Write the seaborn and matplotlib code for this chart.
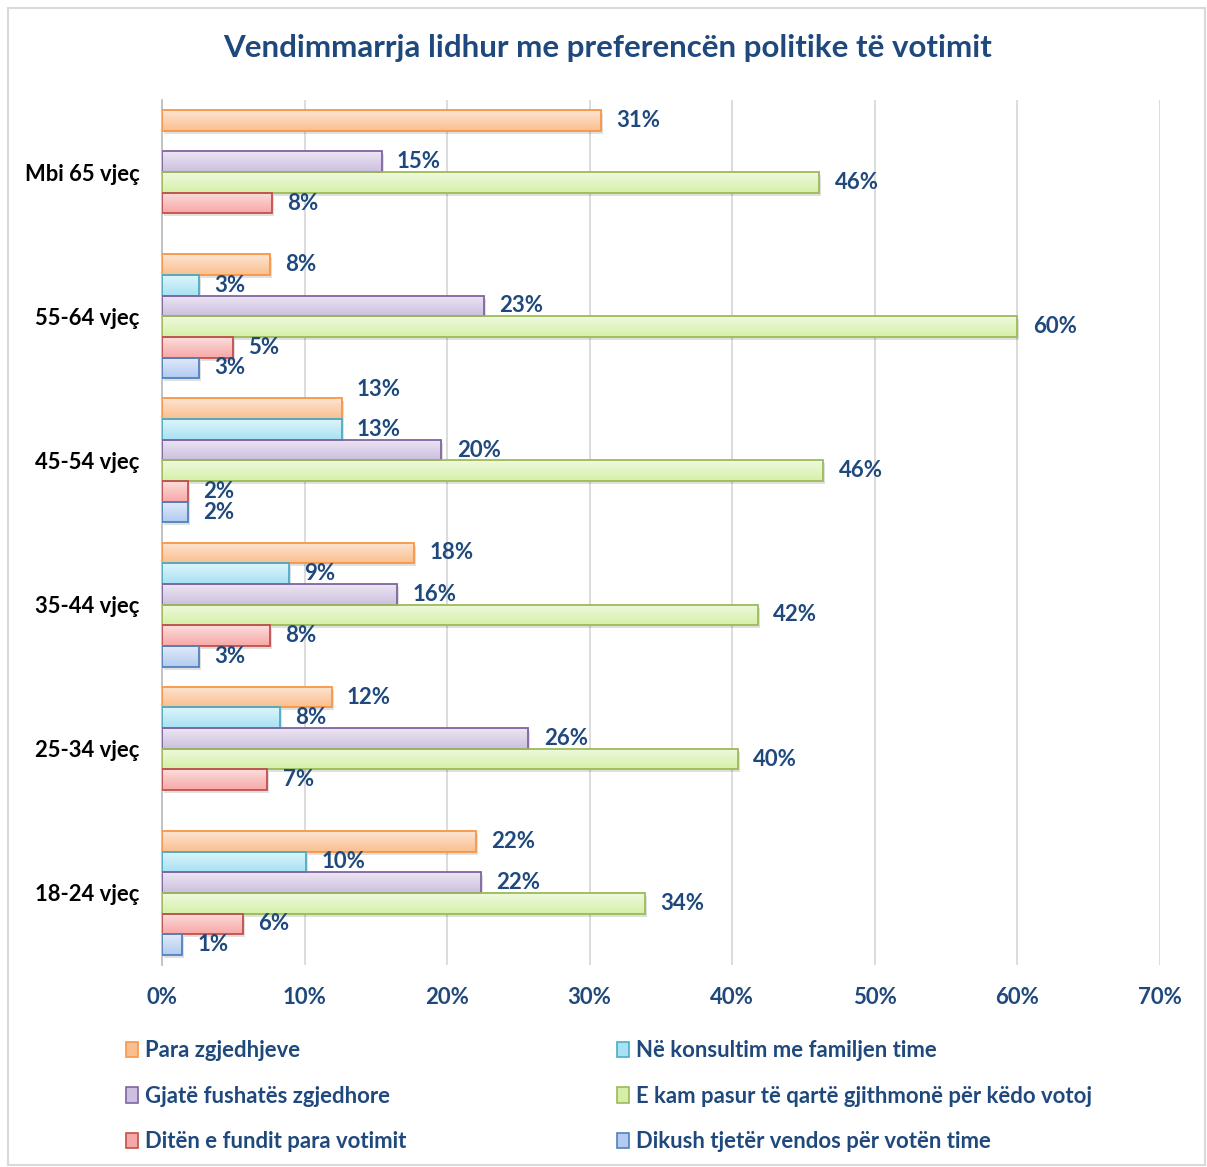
import numpy as np
import pandas as pd
import seaborn as sns
from matplotlib import pyplot as plt
from matplotlib import transforms
from matplotlib.colors import to_rgb
from matplotlib.patches import Patch, Rectangle

# data (percent)
age_groups = ['Mbi 65 vjeç', '55-64 vjeç', '45-54 vjeç', '35-44 vjeç', '25-34 vjeç', '18-24 vjeç']
series = [
    'Para zgjedhjeve',
    'Në konsultim me familjen time',
    'Gjatë fushatës zgjedhore',
    'E kam pasur të qartë gjithmonë për këdo votoj',
    'Ditën e fundit para votimit',
    'Dikush tjetër vendos për votën time',
]
para_zgjedhjeve = [30.8, 7.6, 12.6, 17.7, 11.9, 22.0]
konsultim_familje = [np.nan, 2.6, 12.6, 8.9, 8.3, 10.1]
gjate_fushates = [15.4, 22.6, 19.6, 16.5, 25.7, 22.4]
gjithmone_qarte = [46.1, 60.0, 46.4, 41.8, 40.4, 33.9]
dita_fundit = [7.7, 5.0, 1.8, 7.6, 7.4, 5.7]
dikush_tjeter = [np.nan, 2.6, 1.8, 2.6, np.nan, 1.4]
x_ticks = [0, 10, 20, 30, 40, 50, 60, 70]

values = [para_zgjedhjeve, konsultim_familje, gjate_fushates, gjithmone_qarte, dita_fundit, dikush_tjeter]
df = pd.DataFrame({
    'group': [g for _ in series for g in age_groups],
    'series': [s for s in series for _ in age_groups],
    'value': [v for vals in values for v in vals],
})

edge_colors = ['#F79646', '#4BACC6', '#8064A2', '#9BBB59', '#C0504D', '#4F81BD']
fill_bottom = ['#FABF8F', '#A8E2F2', '#CDBFDF', '#D5F0A6', '#F7A8A6', '#B3CBF0']
fill_top = ['#FDE5D2', '#DDF4FA', '#ECE6F3', '#EFF9DF', '#FCDDDC', '#E1EAF9']
text_blue = '#1F497D'

sns.set_style('white')
plt.rcParams['font.family'] = ['Lato', 'DejaVu Sans']
plt.rcParams['font.weight'] = 'bold'

fig = plt.figure(figsize=(12.07, 11.67), dpi=100)
ax = fig.add_axes([0.1342, 0.1731, 0.8268, 0.7412])

sns.barplot(
    data=df, x='value', y='group', hue='series', orient='h',
    order=age_groups, hue_order=series, palette=fill_bottom,
    width=0.86, linewidth=1.3, saturation=1, legend=False, ax=ax,
)

xlim = (0, 70)
ylim = ax.get_ylim()

# gradient fill + shadow for each bar
for i, container in enumerate(ax.containers):
    grad = np.linspace(to_rgb(fill_top[i]), to_rgb(fill_bottom[i]), 32).reshape(32, 1, 3)
    for bar in container:
        x0, y0 = bar.get_x(), bar.get_y()
        w, h = bar.get_width(), bar.get_height()
        if not np.isfinite(w) or w == 0:
            continue
        bar.set_edgecolor(edge_colors[i])
        bar.set_facecolor('none')
        bar.set_zorder(3)
        shadow_tr = transforms.offset_copy(ax.transData, fig=fig, x=2, y=-3, units='dots')
        ax.add_patch(Rectangle((x0, y0), w, h, transform=shadow_tr, facecolor='#000000',
                               alpha=0.12, edgecolor='none', zorder=1.5))
        im = ax.imshow(grad, extent=(x0, x0 + w, y0 + h, y0), origin='upper',
                       aspect='auto', zorder=2, interpolation='bicubic')
        im.set_clip_path(bar)
    labels = ax.bar_label(container, fmt='{:.0f}%', padding=11, color=text_blue,
                          fontsize=16, fontweight='bold')
    if i == 0:
        # the 45-54 label sits above its bar in the original
        labels[2].xyann = (labels[2].xyann[0], 14)

ax.set_xlim(*xlim)
ax.set_ylim(*ylim)
ax.set_xticks(x_ticks)
ax.set_xticklabels(['{}%'.format(t) for t in x_ticks], color=text_blue, fontsize=16, fontweight='bold')
ax.set_yticks(range(len(age_groups)))
ax.set_yticklabels(age_groups, color='black', fontsize=15.8, fontweight='bold')
ax.tick_params(axis='x', length=0, pad=16)
ax.tick_params(axis='y', length=0, pad=16)
ax.set_xlabel('')
ax.set_ylabel('')
ax.set_axisbelow(True)
ax.grid(axis='x', color='#D9D9D9', linewidth=1.3)
for side in ['top', 'right', 'bottom']:
    ax.spines[side].set_visible(False)
ax.spines['left'].set_color('#BFBFBF')
ax.spines['left'].set_linewidth(1.3)

# legend in two columns, placed as two stacked lists
handles = [Patch(facecolor=fill_bottom[i], edgecolor=edge_colors[i], linewidth=1.2) for i in range(len(series))]
legend_kw = dict(frameon=False, fontsize=15.9, labelcolor=text_blue, handlelength=0.55,
                 handleheight=0.7, handletextpad=0.3, labelspacing=1.12, borderpad=0, borderaxespad=0)
leg1 = fig.legend([handles[i] for i in (0, 2, 4)], [series[i] for i in (0, 2, 4)],
                  loc='upper left', bbox_to_anchor=(126 / 1207, 1 - 1040 / 1167), **legend_kw)
leg2 = fig.legend([handles[i] for i in (1, 3, 5)], [series[i] for i in (1, 3, 5)],
                  loc='upper left', bbox_to_anchor=(617 / 1207, 1 - 1040 / 1167), **legend_kw)

fig.text(0.503, 1 - 48 / 1167, 'Vendimmarrja lidhur me preferencën politike të votimit',
         ha='center', va='center', fontsize=22.5, fontweight='bold', color=text_blue)

# chart frame
fig.patches.append(Rectangle((8 / 1207, 2 / 1167), 1 - 10 / 1207, 1 - 10 / 1167, transform=fig.transFigure,
                             fill=False, edgecolor='#D9D9D9', linewidth=1.5))

fig.savefig('out.png', dpi=100)
